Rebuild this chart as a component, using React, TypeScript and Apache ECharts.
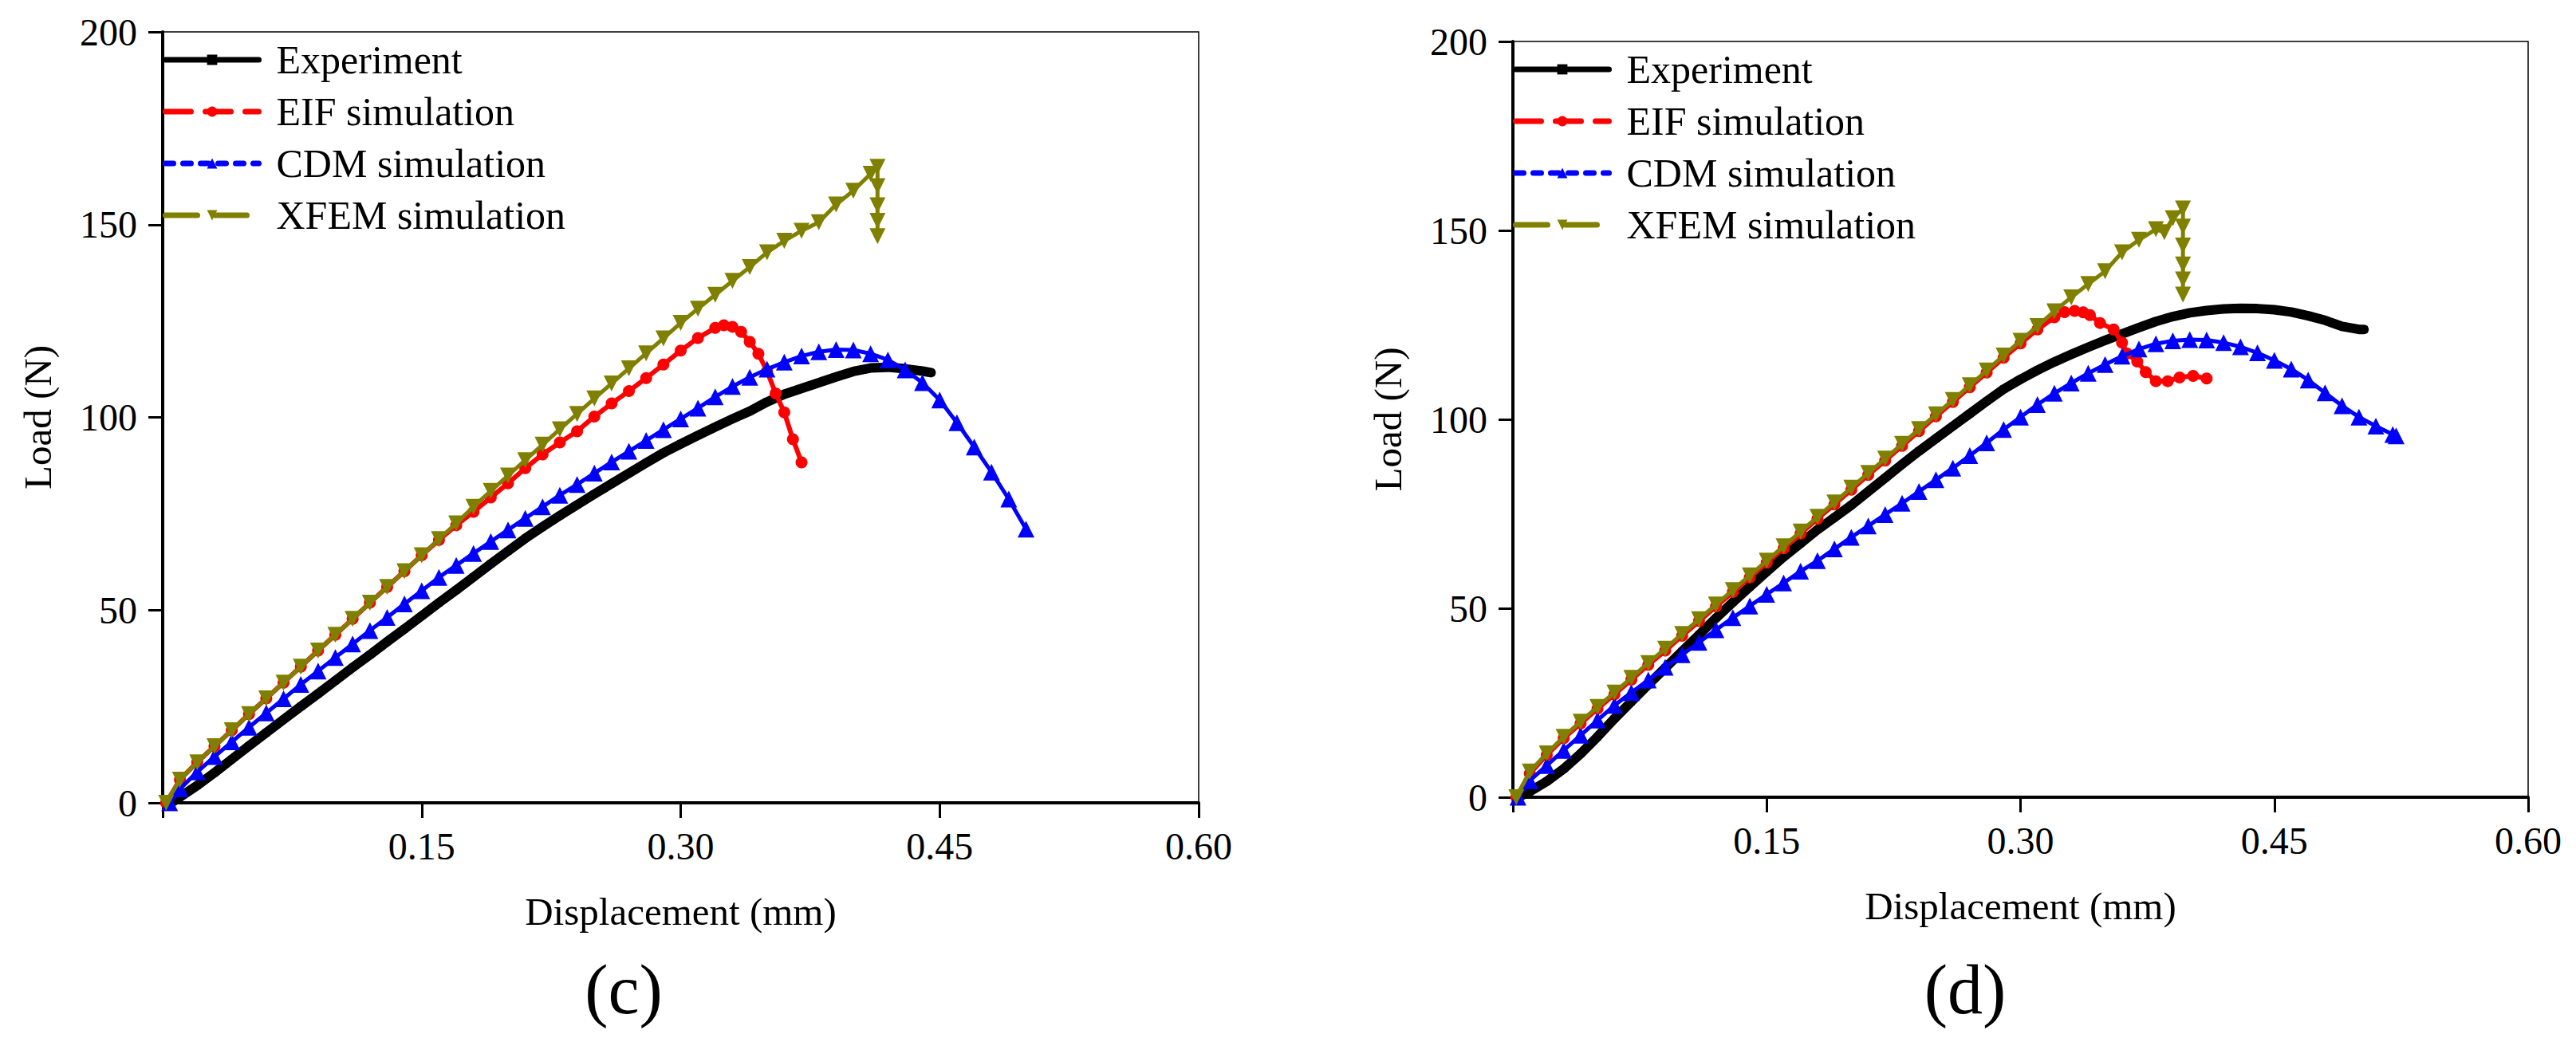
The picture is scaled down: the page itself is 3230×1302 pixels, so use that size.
import React, { useEffect, useRef } from 'react';
import * as echarts from 'echarts';

const FONT = '"Liberation Serif", "Times New Roman", serif';

const seriesNames = ['Experiment', 'EIF simulation', 'CDM simulation', 'XFEM simulation'];
const panelLabels = ['(c)', '(d)'];
const xAxisTitle = 'Displacement (mm)';
const yAxisTitle = 'Load (N)';
const xRange = [0, 0.6];
const xStep = 0.15;
const yRange = [0, 200];
const yStep = 50;

// ---------- panel (c) ----------
const expC: [number, number][] = [
  [0.005, 0], [0.01, 1.5], [0.02, 4.5], [0.03, 7.8], [0.04, 11.3], [0.05, 14.8], [0.06, 18.2], [0.07, 21.6],
  [0.08, 25.0], [0.09, 28.3], [0.10, 31.7], [0.11, 35.1], [0.12, 38.4], [0.13, 41.8], [0.14, 45.1], [0.15, 48.5],
  [0.16, 51.9], [0.17, 55.2], [0.18, 58.6], [0.19, 62.0], [0.20, 65.3], [0.21, 68.6], [0.22, 71.6], [0.23, 74.5],
  [0.24, 77.3], [0.25, 80.1], [0.26, 82.8], [0.27, 85.5], [0.28, 88.2], [0.29, 90.8], [0.30, 93.1], [0.31, 95.3],
  [0.32, 97.5], [0.33, 99.6], [0.34, 101.6], [0.35, 104.0], [0.36, 106.0], [0.37, 107.5], [0.38, 109.0],
  [0.39, 110.5], [0.40, 111.9], [0.41, 112.8], [0.42, 113.0], [0.43, 112.6], [0.44, 112.0], [0.445, 111.6],
];

const eifC: [number, number][] = [
  [0.002, 0], [0.01, 6.0], [0.02, 10.5], [0.03, 14.7], [0.04, 18.8], [0.05, 23.0], [0.06, 27.1], [0.07, 31.2],
  [0.08, 35.3], [0.09, 39.5], [0.10, 43.6], [0.11, 47.7], [0.12, 51.9], [0.13, 56.0], [0.14, 60.1], [0.15, 64.2],
  [0.16, 68.2], [0.17, 72.0], [0.18, 75.5], [0.19, 79.2], [0.20, 82.9], [0.21, 86.8], [0.22, 90.4], [0.23, 93.5],
  [0.24, 96.4], [0.25, 100.2], [0.26, 103.6], [0.27, 106.8], [0.28, 110.2], [0.29, 113.7], [0.30, 117.3],
  [0.31, 120.6], [0.32, 123.2], [0.325, 123.9], [0.33, 123.5], [0.335, 122.2], [0.34, 119.6], [0.345, 116.5],
  [0.35, 112.0], [0.355, 106.2], [0.36, 101.3], [0.365, 94.3], [0.37, 88.3],
];

const cdmC: [number, number][] = [
  [0.004, 0], [0.01, 3.6], [0.02, 8.0], [0.03, 12.0], [0.04, 15.8], [0.05, 19.6], [0.06, 23.3], [0.07, 27.0],
  [0.08, 30.7], [0.09, 34.2], [0.10, 37.7], [0.11, 41.2], [0.12, 44.7], [0.13, 48.1], [0.14, 51.6], [0.15, 55.0],
  [0.16, 58.5], [0.17, 61.6], [0.18, 64.7], [0.19, 67.8], [0.20, 70.8], [0.21, 73.8], [0.22, 76.8], [0.23, 79.8],
  [0.24, 82.6], [0.25, 85.5], [0.26, 88.4], [0.27, 91.2], [0.28, 94.0], [0.29, 96.8], [0.30, 99.6], [0.31, 102.4],
  [0.32, 105.3], [0.33, 108.0], [0.34, 110.4], [0.35, 112.5], [0.36, 114.3], [0.37, 115.9], [0.38, 117.0],
  [0.39, 117.6], [0.40, 117.5], [0.41, 116.5], [0.42, 114.9], [0.43, 112.3], [0.44, 109.0], [0.45, 104.5],
  [0.46, 98.6], [0.47, 92.3], [0.48, 85.8], [0.49, 78.8], [0.50, 71.0],
];

const xfemC: [number, number][] = [
  [0.002, 0], [0.01, 6.0], [0.02, 10.5], [0.03, 14.7], [0.04, 18.8], [0.05, 23.0], [0.06, 27.1], [0.07, 31.2],
  [0.08, 35.3], [0.09, 39.5], [0.10, 43.6], [0.11, 47.7], [0.12, 51.9], [0.13, 56.0], [0.14, 60.1], [0.15, 64.2],
  [0.16, 68.4], [0.17, 72.5], [0.18, 76.8], [0.19, 80.9], [0.20, 84.9], [0.21, 88.9], [0.22, 92.9], [0.23, 96.9],
  [0.24, 100.9], [0.25, 104.9], [0.26, 108.8], [0.27, 112.7], [0.28, 116.6], [0.29, 120.5], [0.30, 124.5],
  [0.31, 128.2], [0.32, 131.8], [0.33, 135.4], [0.34, 139.0], [0.35, 142.8], [0.36, 145.8], [0.37, 148.4],
  [0.38, 150.6], [0.39, 155.2], [0.40, 158.8], [0.41, 163.2], [0.414, 165.0], [0.414, 160.0], [0.414, 155.0],
  [0.414, 151.0], [0.414, 147.0],
];

// ---------- panel (d) ----------
const expD: [number, number][] = [
  [0.003, 0], [0.01, 1.5], [0.02, 4.2], [0.03, 7.5], [0.04, 11.5], [0.05, 16.0], [0.06, 20.8], [0.07, 25.3],
  [0.08, 29.8], [0.09, 34.2], [0.10, 38.6], [0.11, 43.0], [0.12, 47.4], [0.13, 51.6], [0.14, 55.7], [0.15, 59.7],
  [0.16, 63.6], [0.17, 67.2], [0.18, 70.8], [0.19, 74.0], [0.20, 77.3], [0.21, 80.9], [0.22, 84.5], [0.23, 88.1],
  [0.24, 91.6], [0.25, 94.9], [0.26, 98.2], [0.27, 101.5], [0.28, 104.8], [0.29, 108.0], [0.30, 110.6],
  [0.31, 113.0], [0.32, 115.2], [0.33, 117.2], [0.34, 119.1], [0.35, 120.9], [0.36, 122.6], [0.37, 124.3],
  [0.38, 125.9], [0.39, 127.2], [0.40, 128.2], [0.41, 128.8], [0.42, 129.2], [0.43, 129.4], [0.44, 129.3],
  [0.45, 129.0], [0.46, 128.4], [0.47, 127.4], [0.48, 126.2], [0.49, 124.6], [0.50, 123.8], [0.503, 123.8],
];

const eifD: [number, number][] = [
  [0.002, 0], [0.01, 6.3], [0.02, 11.2], [0.03, 15.6], [0.04, 19.5], [0.05, 23.4], [0.06, 27.2], [0.07, 31.1],
  [0.08, 35.0], [0.09, 38.8], [0.10, 42.7], [0.11, 46.6], [0.12, 50.5], [0.13, 54.3], [0.14, 58.2], [0.15, 62.1],
  [0.16, 65.9], [0.17, 69.8], [0.18, 73.7], [0.19, 77.5], [0.20, 81.4], [0.21, 85.3], [0.22, 89.1], [0.23, 93.0],
  [0.24, 96.9], [0.25, 100.8], [0.26, 104.6], [0.27, 108.5], [0.28, 112.4], [0.29, 116.3], [0.30, 120.1],
  [0.31, 123.8], [0.32, 127.0], [0.326, 128.4], [0.332, 128.7], [0.337, 128.3], [0.341, 127.6], [0.347, 125.5],
  [0.355, 123.8], [0.36, 120.3], [0.363, 117.4], [0.369, 115.3], [0.374, 112.5], [0.38, 110.1], [0.387, 110.1],
  [0.394, 111.1], [0.402, 111.5], [0.41, 110.8],
];

const cdmD: [number, number][] = [
  [0.003, 0], [0.01, 4.4], [0.02, 8.4], [0.03, 12.4], [0.04, 16.4], [0.05, 20.4], [0.06, 24.3], [0.07, 27.7],
  [0.08, 31.0], [0.09, 34.4], [0.10, 37.7], [0.11, 41.0], [0.12, 44.3], [0.13, 47.5], [0.14, 50.6], [0.15, 53.7],
  [0.16, 56.7], [0.17, 59.8], [0.18, 62.6], [0.19, 65.7], [0.20, 68.8], [0.21, 71.8], [0.22, 74.8], [0.23, 77.8],
  [0.24, 80.9], [0.25, 84.0], [0.26, 87.1], [0.27, 90.4], [0.28, 93.8], [0.29, 97.3], [0.30, 100.6],
  [0.31, 103.9], [0.32, 106.9], [0.33, 109.6], [0.34, 112.2], [0.35, 114.5], [0.36, 116.7], [0.37, 118.6],
  [0.38, 120.0], [0.39, 120.8], [0.40, 121.1], [0.41, 121.0], [0.42, 120.3], [0.43, 119.2], [0.44, 117.6],
  [0.45, 115.6], [0.46, 113.3], [0.47, 110.4], [0.48, 107.0], [0.49, 103.6], [0.50, 100.6], [0.51, 98.2],
  [0.52, 96.0], [0.522, 95.6],
];

const xfemD: [number, number][] = [
  [0.002, 0], [0.01, 6.8], [0.02, 11.6], [0.03, 16.0], [0.04, 20.0], [0.05, 23.9], [0.06, 27.7], [0.07, 31.6],
  [0.08, 35.5], [0.09, 39.3], [0.10, 43.2], [0.11, 47.1], [0.12, 51.0], [0.13, 54.8], [0.14, 58.7], [0.15, 62.6],
  [0.16, 66.4], [0.17, 70.3], [0.18, 74.2], [0.19, 78.0], [0.20, 81.9], [0.21, 85.8], [0.22, 89.6], [0.23, 93.5],
  [0.24, 97.4], [0.25, 101.3], [0.26, 105.1], [0.27, 109.0], [0.28, 112.9], [0.29, 116.9], [0.30, 120.8],
  [0.31, 124.7], [0.32, 128.6], [0.33, 132.3], [0.34, 135.8], [0.35, 139.2], [0.36, 144.2], [0.37, 147.5],
  [0.38, 150.3], [0.385, 149.5], [0.39, 153.2], [0.396, 155.8], [0.396, 151.0], [0.396, 146.0], [0.396, 141.0],
  [0.396, 137.0], [0.396, 133.0],
];

const panelData = [
  [expC, eifC, cdmC, xfemC],
  [expD, eifD, cdmD, xfemD],
];

const seriesStyles = [
  { color: '#000000', symbol: 'rect', symbolSize: 9, lineWidth: 12, rotate: 0, legendDash: 'solid' as any },
  { color: '#FF0000', symbol: 'circle', symbolSize: 15, lineWidth: 6, rotate: 0, legendDash: [32, 18] },
  { color: '#0000FF', symbol: 'triangle', symbolSize: 21, lineWidth: 5, rotate: 0, legendDash: [10, 12] },
  { color: '#808000', symbol: 'triangle', symbolSize: 20, lineWidth: 5, rotate: 180, legendDash: [40, 22] },
];

const grids = [
  { left: 204, top: 40, width: 1299, height: 967 },
  { left: 1897, top: 52, width: 1273, height: 948 },
];
const panelLabelPos = [
  { x: 782, y: 1241 },
  { x: 2464, y: 1241 },
];

function buildOption() {
  const grid = grids.map((g) => ({
    ...g,
    show: true,
    borderColor: '#000',
    borderWidth: 1.5,
    backgroundColor: 'transparent',
    containLabel: false,
  }));

  const xAxis = grids.map((_, i) => ({
    type: 'value',
    gridIndex: i,
    min: xRange[0],
    max: xRange[1],
    interval: xStep,
    name: xAxisTitle,
    nameLocation: 'middle',
    nameGap: 112,
    nameTextStyle: { fontFamily: FONT, fontSize: 49, color: '#000' },
    axisLine: { show: true, onZero: false, lineStyle: { color: '#000', width: 4 } },
    axisTick: { show: true, inside: false, length: 19, lineStyle: { color: '#000', width: 3 } },
    axisLabel: {
      margin: 30,
      fontFamily: FONT,
      fontSize: 48,
      color: '#000',
      formatter: (v: number) => (v === 0 ? '' : v.toFixed(2)),
    },
    splitLine: { show: false },
  }));

  const yAxis = grids.map((_, i) => ({
    type: 'value',
    gridIndex: i,
    min: yRange[0],
    max: yRange[1],
    interval: yStep,
    name: yAxisTitle,
    nameLocation: 'middle',
    nameGap: 132,
    nameTextStyle: { fontFamily: FONT, fontSize: 49, color: '#000' },
    axisLine: { show: true, onZero: false, lineStyle: { color: '#000', width: 4 } },
    axisTick: { show: true, inside: false, length: 18, lineStyle: { color: '#000', width: 3 } },
    axisLabel: { margin: 32, fontFamily: FONT, fontSize: 48, color: '#000' },
    splitLine: { show: false },
  }));

  const series: any[] = [];
  panelData.forEach((sets, p) => {
    sets.forEach((data, k) => {
      const st = seriesStyles[k];
      series.push({
        type: 'line',
        name: seriesNames[k],
        xAxisIndex: p,
        yAxisIndex: p,
        data,
        symbol: st.symbol,
        symbolSize: st.symbolSize,
        symbolRotate: st.rotate,
        showSymbol: true,
        showAllSymbol: true,
        lineStyle: { color: st.color, width: st.lineWidth, cap: 'round', join: 'round' },
        itemStyle: { color: st.color, borderWidth: 0 },
        emphasis: { disabled: true },
        z: 2 + k,
      });
    });
  });

  const legendTops = [50, 62];
  const legend = grids.map((g, i) => ({
    orient: 'vertical',
    left: g.left,
    top: legendTops[i],
    padding: 0,
    itemWidth: 117,
    itemHeight: 16,
    itemGap: 15,
    selectedMode: false,
    textStyle: { fontFamily: FONT, fontSize: 50, color: '#000', padding: [0, 0, 0, 17] },
    data: seriesNames.map((n, k) => ({
      name: n,
      lineStyle: { width: 7, type: seriesStyles[k].legendDash, cap: 'round' },
    })),
  }));

  const graphic = panelLabels.map((t, i) => ({
    type: 'text',
    x: panelLabelPos[i].x,
    y: panelLabelPos[i].y,
    style: {
      text: t,
      font: `88px ${FONT}`,
      fill: '#000',
      textAlign: 'center',
      textVerticalAlign: 'middle',
    },
  }));

  return {
    animation: false,
    backgroundColor: '#ffffff',
    grid,
    xAxis,
    yAxis,
    legend,
    series,
    graphic,
  };
}

export default function App() {
  const ref = useRef<HTMLDivElement>(null);
  useEffect(() => {
    if (!ref.current) return;
    const chart = echarts.init(ref.current, null, { renderer: 'svg' });
    chart.setOption(buildOption() as any);
    return () => chart.dispose();
  }, []);
  return (
    <div
      ref={ref}
      style={{ position: 'fixed', left: 0, top: 0, width: 3230, height: 1302, background: '#fff' }}
    />
  );
}
